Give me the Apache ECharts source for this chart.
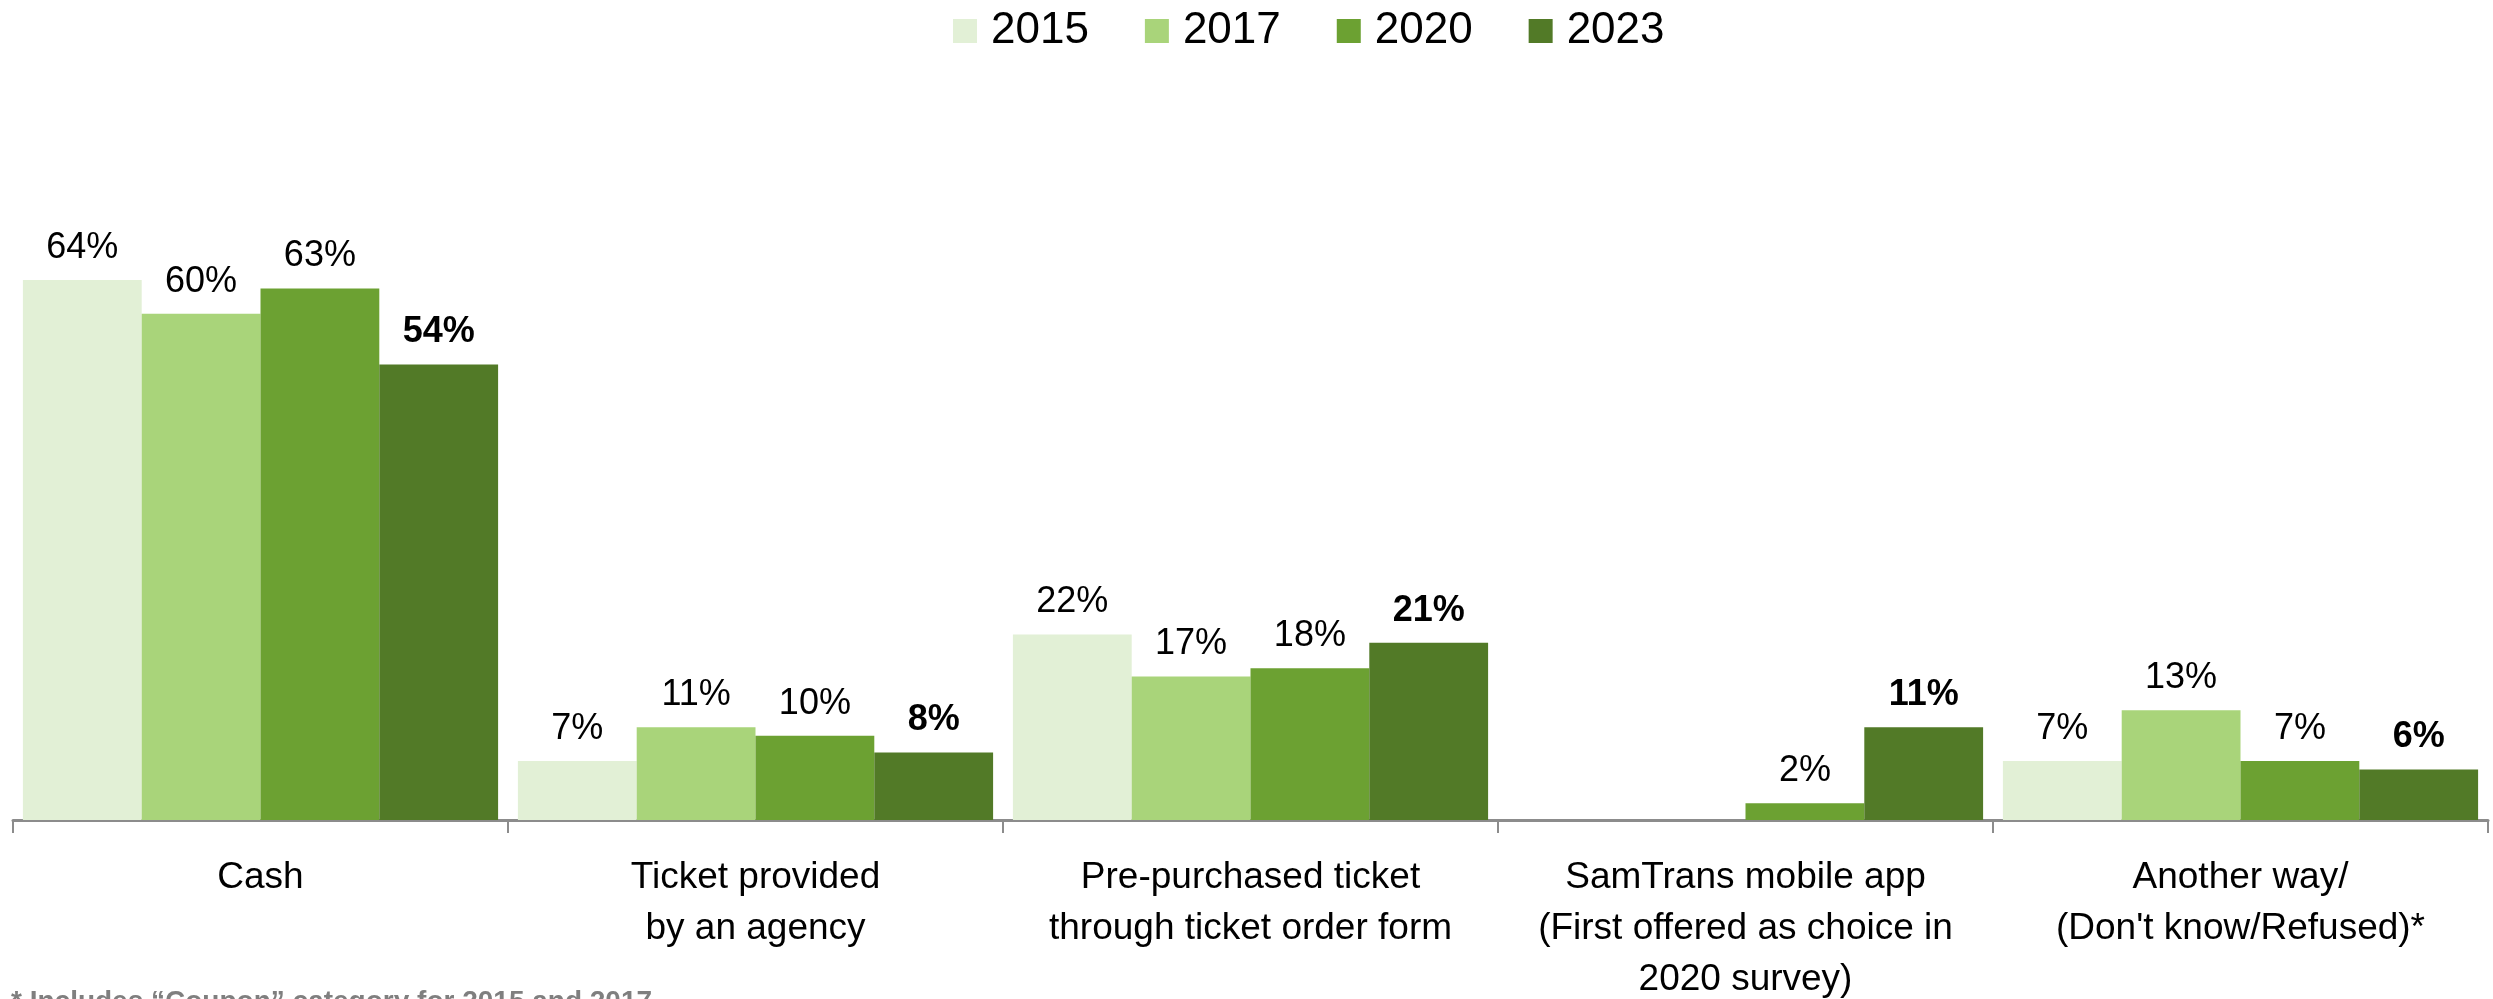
<!DOCTYPE html>
<html>
<head>
<meta charset="utf-8">
<script src="https://cdn.jsdelivr.net/npm/echarts@6/dist/echarts.min.js"></script>
<style>
  html, body { margin: 0; padding: 0; background: #ffffff; }
  #chart { width: 2493px; height: 999px; }
</style>
</head>
<body>
<div id="chart"></div>
<script>
// Fare payment method by survey year (share of riders, %)
const categories = [
  'Cash',
  'Ticket provided\nby an agency',
  'Pre-purchased ticket\nthrough ticket order form',
  'SamTrans mobile app\n(First offered as choice in\n2020 survey)',
  'Another way/\n(Don\'t know/Refused)*'
];
const years = ['2015', '2017', '2020', '2023'];
const values2015 = [64, 7, 22, null, 7];
const values2017 = [60, 11, 17, null, 13];
const values2020 = [63, 10, 18, 2, 7];
const values2023 = [54, 8, 21, 11, 6];
const colors = ['#e2f0d6', '#a9d47a', '#6ca132', '#527a27'];
const footnote = '* Includes \u201cCoupon\u201d category for 2015 and 2017';

const FONT = '"Liberation Sans", Arial, sans-serif';
const seriesValues = [values2015, values2017, values2020, values2023];

const series = years.map((y, i) => ({
  name: y,
  type: 'bar',
  data: seriesValues[i],
  barGap: '0%',
  barCategoryGap: '4%',
  itemStyle: { color: colors[i] },
  label: {
    show: true,
    position: 'top',
    distance: 14,
    formatter: p => (p.value == null ? '' : p.value + '%'),
    color: '#000000',
    fontFamily: FONT,
    fontSize: 36,
    fontWeight: i === 3 ? 'bold' : 'normal'
  }
}));

const chart = echarts.init(document.getElementById('chart'));
chart.setOption({
  animation: false,
  backgroundColor: '#ffffff',
  legend: {
    data: years,
    top: 4,
    left: 948,
    itemWidth: 24,
    itemHeight: 24,
    itemGap: 56,
    icon: 'rect',
    textStyle: {
      fontFamily: FONT,
      fontSize: 44,
      color: '#000000',
      padding: [0, 0, 0, 9]
    }
  },
  grid: { left: 13, right: 5, top: 145, bottom: 179, outerBoundsMode: 'none' },
  xAxis: {
    type: 'category',
    data: categories,
    axisLine: { show: true, lineStyle: { color: '#8c8c8c', width: 3 } },
    axisTick: { show: true, length: 13, lineStyle: { color: '#8c8c8c', width: 2 } },
    axisLabel: {
      interval: 0,
      margin: 32,
      color: '#000000',
      fontFamily: FONT,
      fontSize: 37,
      lineHeight: 51,
      align: 'center'
    }
  },
  yAxis: {
    type: 'value',
    min: 0,
    max: 80,
    show: false,
    splitLine: { show: false }
  },
  graphic: [{
    type: 'text',
    left: 11,
    top: 988,
    style: {
      text: footnote,
      fill: '#7f7f7f',
      font: 'bold 28px ' + FONT
    }
  }],
  series: series
});
</script>
</body>
</html>
